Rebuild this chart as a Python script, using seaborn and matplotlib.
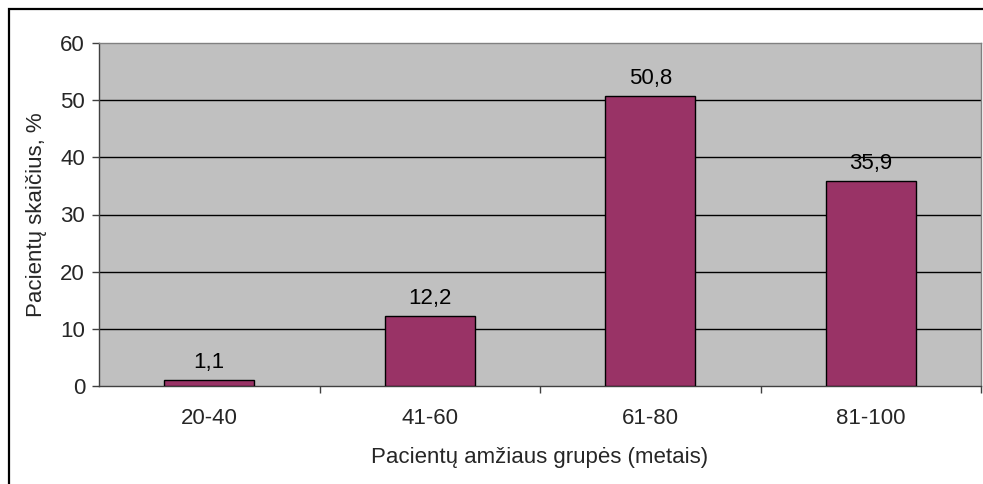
import matplotlib
matplotlib.use("Agg")
import matplotlib.pyplot as plt
from matplotlib.patches import Rectangle
import seaborn as sns
import pandas as pd

age_groups = ["20-40", "41-60", "61-80", "81-100"]
patient_share = [1.1, 12.2, 50.8, 35.9]
y_ticks = [0, 10, 20, 30, 40, 50, 60]

sns.set_theme(style="white")
plt.rcParams["font.family"] = ["Liberation Sans", "DejaVu Sans"]
FS = 16

df = pd.DataFrame({"group": age_groups, "share": patient_share})

fig = plt.figure(figsize=(9.83, 4.84), dpi=100)
ax = fig.add_axes([99 / 983, 1 - 386 / 484, (981 - 99) / 983, (386 - 43) / 484])
ax.set_facecolor("#C0C0C0")

sns.barplot(data=df, x="group", y="share", color="#993366", width=0.41,
            edgecolor="black", linewidth=1.0, saturation=1, ax=ax, zorder=3)

ax.set_ylim(0, 60)
ax.set_xlim(-0.5, len(age_groups) - 0.5)
ax.set_yticks(y_ticks)
ax.set_yticklabels([str(t) for t in y_ticks], fontsize=FS)
for t in y_ticks[1:-1]:
    ax.axhline(t, color="black", lw=1.0, zorder=1)

# category labels centred, tick marks on the category boundaries
ax.set_xticks([i + 0.5 for i in range(len(age_groups) - 1)] + [len(age_groups) - 0.5])
ax.set_xticklabels([])
ax.set_xticks(range(len(age_groups)), minor=True)
ax.set_xticklabels(age_groups, minor=True, fontsize=FS)
ax.tick_params(axis="x", which="major", direction="out", length=5, width=1,
               color="#404040", bottom=True)
ax.tick_params(axis="x", which="minor", length=0, pad=16)
ax.tick_params(axis="y", direction="out", length=5, width=1, color="#404040",
               left=True, pad=5)

for side, sp in ax.spines.items():
    sp.set_color("#808080")
    sp.set_linewidth(1.0)
ax.spines["left"].set_color("#404040")
ax.spines["bottom"].set_color("#404040")

for i, v in enumerate(patient_share):
    ax.annotate(f"{v:.1f}".replace(".", ","), (i, v), xytext=(0, 5),
                textcoords="offset points", ha="center", va="bottom",
                fontsize=FS, color="black", zorder=4)

ax.set_xlabel("Pacientų amžiaus grupės (metais)", fontsize=FS)
ax.set_ylabel("Pacientų skaičius, %", fontsize=FS)
ax.xaxis.label.set_va("center")
ax.yaxis.label.set_va("center")
ax.xaxis.set_label_coords(0.5, (386 - 457) / 343)
ax.yaxis.set_label_coords((37 - 99) / 882, 0.5)

# chart frame
fig.patches.append(Rectangle((9 / 983, -0.5), 2.0, 1.5 - 9 / 484,
                             transform=fig.transFigure, fill=False,
                             edgecolor="black", linewidth=1.6))

fig.savefig("out.png", dpi=100, facecolor="white")
